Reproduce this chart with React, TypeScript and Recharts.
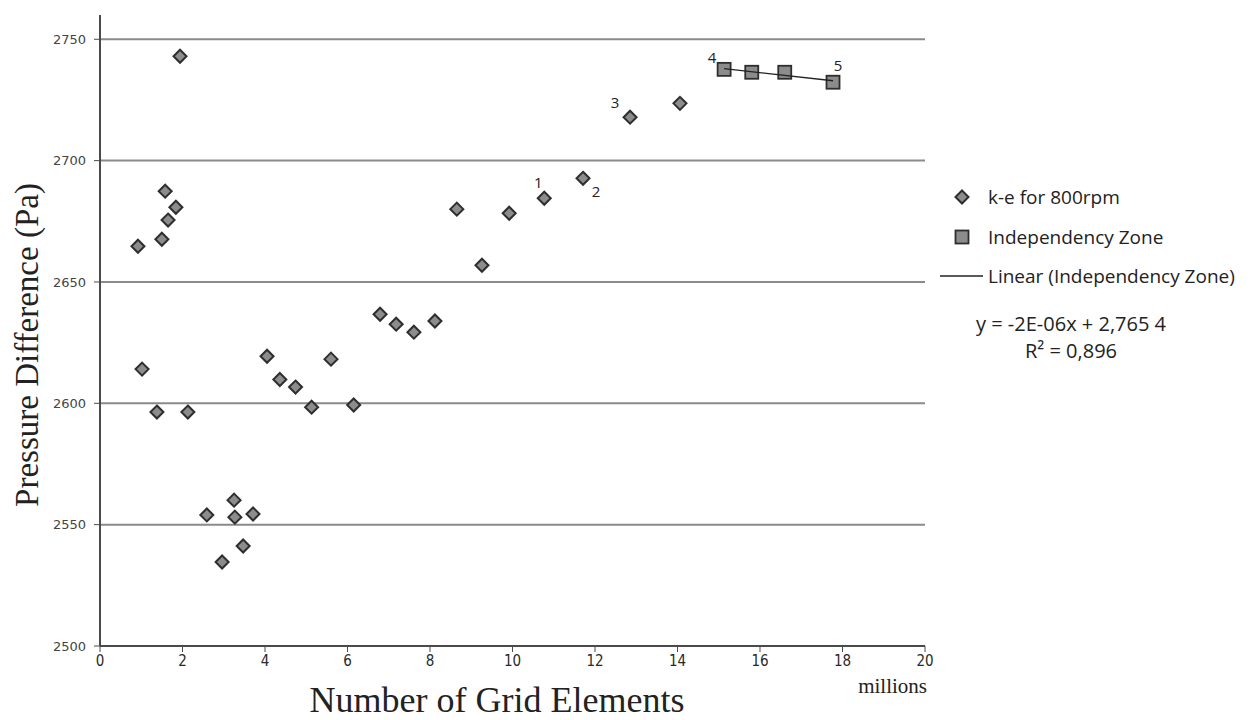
import React from 'react';
import { ScatterChart, Scatter, XAxis, YAxis, CartesianGrid } from 'recharts';

// k-e for 800rpm (x in millions of elements, y in Pa)
const keE800rpm = [
    { x: 0.92, y: 2664.7 }, { x: 1.02, y: 2614.1 }, { x: 1.38, y: 2596.4 },
    { x: 1.50, y: 2667.6 }, { x: 1.58, y: 2687.4 }, { x: 1.65, y: 2675.5 },
    { x: 1.84, y: 2680.8 }, { x: 1.94, y: 2743.0 }, { x: 2.13, y: 2596.4 },
    { x: 2.59, y: 2554.0 }, { x: 2.96, y: 2534.6 }, { x: 3.25, y: 2560.1 },
    { x: 3.27, y: 2553.1 }, { x: 3.47, y: 2541.2 }, { x: 3.71, y: 2554.4 },
    { x: 4.05, y: 2619.4 }, { x: 4.36, y: 2609.8 }, { x: 4.74, y: 2606.7 },
    { x: 5.13, y: 2598.4 }, { x: 5.60, y: 2618.2 }, { x: 6.15, y: 2599.3 },
    { x: 6.79, y: 2636.7 }, { x: 7.18, y: 2632.6 }, { x: 7.61, y: 2629.3 },
    { x: 8.12, y: 2633.9 }, { x: 8.65, y: 2680.0 }, { x: 9.26, y: 2656.9 },
    { x: 9.92, y: 2678.3 }, { x: 10.77, y: 2684.5, tag: '1' },
    { x: 11.71, y: 2692.7, tag: '2' }, { x: 12.85, y: 2717.9, tag: '3' },
    { x: 14.06, y: 2723.6 },
];

const independencyZone = [
    { x: 15.13, y: 2737.6, tag: '4' },
    { x: 15.80, y: 2736.4 },
    { x: 16.60, y: 2736.4 },
    { x: 17.77, y: 2732.3, tag: '5' },
];

// Linear (Independency Zone) end points
const linearFit = [
    { x: 15.13, y: 2737.9 },
    { x: 17.77, y: 2732.9 },
];

const xTicks = [0, 2, 4, 6, 8, 10, 12, 14, 16, 18, 20];
const yTicks = [2500, 2550, 2600, 2650, 2700, 2750];

const TAG_OFFSET: Record<string, [number, number]> = {
    '1': [-6, -16],
    '2': [13, 13],
    '3': [-15, -15],
    '4': [-12, -12],
    '5': [5, -17],
};

const MARK_FILL = '#8c8c8c';
const MARK_STROKE = '#2e2e2e';

const Tag = ({ cx, cy, tag }: any) => {
    if (!tag) return null;
    const [dx, dy] = TAG_OFFSET[tag];
    return (
        <text x={cx + dx} y={cy + dy} textAnchor="middle" dominantBaseline="central"
            fontFamily="Open Sans, sans-serif" fontSize={15} fill="#222">{tag}</text>
    );
};

const Diamond = (props: any) => {
    const { cx, cy, payload } = props;
    const r = 6.5;
    return (
        <g>
            <polygon points={`${cx},${cy - r} ${cx + r},${cy} ${cx},${cy + r} ${cx - r},${cy}`}
                fill={MARK_FILL} stroke={MARK_STROKE} strokeWidth={2} />
            <Tag cx={cx} cy={cy} tag={payload?.tag} />
        </g>
    );
};

const Square = (props: any) => {
    const { cx, cy, payload } = props;
    const s = 6.5;
    return (
        <g>
            <rect x={cx - s} y={cy - s} width={s * 2} height={s * 2}
                fill={MARK_FILL} stroke={MARK_STROKE} strokeWidth={1.8} />
            <Tag cx={cx} cy={cy} tag={payload?.tag} />
        </g>
    );
};

const legendText: React.CSSProperties = {
    position: 'absolute', left: 988, fontFamily: 'Open Sans, sans-serif',
    fontSize: 19, color: '#222', whiteSpace: 'nowrap', transform: 'translateY(-50%)',
};

const App = () => {
    return (
        <div style={{ position: 'absolute', left: 0, top: 0, width: 1250, height: 720, background: '#fff' }}>
            <ScatterChart width={1250} height={720} margin={{ top: 15, right: 325, bottom: 44, left: 0 }}>
                <CartesianGrid vertical={false} horizontalValues={yTicks} stroke="#8a8a8a" strokeWidth={2} />
                <XAxis type="number" dataKey="x" domain={[0, 20]} ticks={xTicks} height={30}
                    tickSize={6} tickMargin={3}
                    axisLine={{ stroke: '#4a4a4a', strokeWidth: 2 }} tickLine={{ stroke: '#4a4a4a' }}
                    tick={{ fontSize: 15, fill: '#2a2a2a', fontFamily: 'DejaVu Sans Condensed, sans-serif' }} />
                <YAxis type="number" dataKey="y" domain={[2500, 2760]} ticks={yTicks} width={100}
                    tickSize={6} tickMargin={8}
                    axisLine={{ stroke: '#4a4a4a', strokeWidth: 2 }} tickLine={{ stroke: '#4a4a4a' }}
                    tick={{ fontSize: 13, fill: '#444', fontFamily: 'DejaVu Sans, sans-serif' }} />
                <Scatter name="k-e for 800rpm" data={keE800rpm} shape={Diamond} isAnimationActive={false} />
                <Scatter name="Independency Zone" data={independencyZone} shape={Square} isAnimationActive={false} />
                <Scatter name="Linear (Independency Zone)" data={linearFit} shape={() => <g />}
                    line={{ stroke: '#222', strokeWidth: 1.3 }} isAnimationActive={false} />
            </ScatterChart>

            <div style={{
                position: 'absolute', left: 27, top: 345, transform: 'translate(-50%, -50%) rotate(-90deg)',
                fontFamily: 'Liberation Serif, serif', fontSize: 33, color: '#222', whiteSpace: 'nowrap',
            }}>Pressure Difference (Pa)</div>
            <div style={{
                position: 'absolute', left: 497, top: 700, transform: 'translate(-50%, -50%)',
                fontFamily: 'Liberation Serif, serif', fontSize: 36, color: '#222', whiteSpace: 'nowrap',
            }}>Number of Grid Elements</div>
            <div style={{
                position: 'absolute', right: 1250 - 927, top: 686, transform: 'translateY(-50%)',
                fontFamily: 'Liberation Serif, serif', fontSize: 21, color: '#222', whiteSpace: 'nowrap',
            }}>millions</div>

            {/* legend */}
            <svg style={{ position: 'absolute', left: 930, top: 180 }} width={60} height={110}>
                <polygon points="32,10.5 38.5,17 32,23.5 25.5,17" fill={MARK_FILL} stroke={MARK_STROKE} strokeWidth={2} />
                <rect x={25.5} y={50.5} width={13} height={13} fill={MARK_FILL} stroke={MARK_STROKE} strokeWidth={1.8} />
                <line x1={10} y1={96} x2={53} y2={96} stroke="#222" strokeWidth={1.3} />
            </svg>
            <div style={{ ...legendText, top: 197 }}>k-e for 800rpm</div>
            <div style={{ ...legendText, top: 237 }}>Independency Zone</div>
            <div style={{ ...legendText, top: 276 }}>Linear (Independency Zone)</div>
            <div style={{ ...legendText, fontSize: 20, left: 1071, top: 323, transform: 'translate(-50%, -50%)' }}>y = -2E-06x + 2,765 4</div>
            <div style={{ ...legendText, fontSize: 20, left: 1071, top: 350, transform: 'translate(-50%, -50%)' }}>R² = 0,896</div>
        </div>
    );
};

export default App;
